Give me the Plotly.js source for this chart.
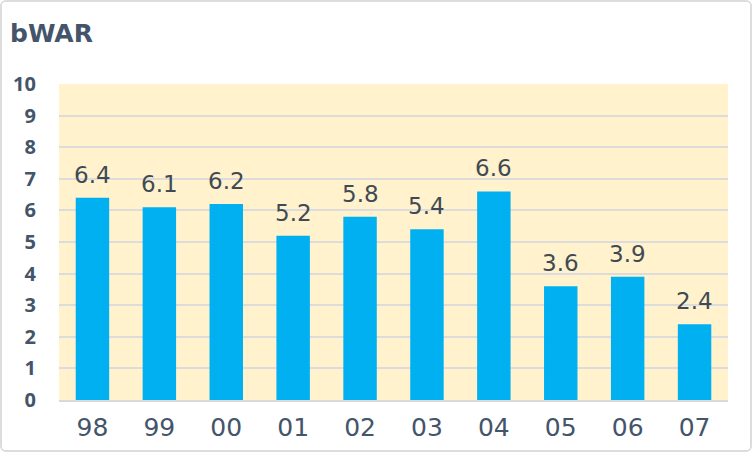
<!DOCTYPE html>
<html>
<head>
<meta charset="utf-8">
<script src="https://cdn.plot.ly/plotly-3.0.1.min.js"></script>
<style>
  body { margin: 0; background: #fff; }
  #frame { width: 748px; height: 448px; border: 2px solid #dcdcdc; border-radius: 6px; overflow: hidden; }
</style>
</head>
<body>
<div id="frame"><div id="chart"></div></div>
<script>
var years = ['98', '99', '00', '01', '02', '03', '04', '05', '06', '07'];
var bwar = [6.4, 6.1, 6.2, 5.2, 5.8, 5.4, 6.6, 3.6, 3.9, 2.4];

var trace = {
  x: years,
  y: bwar,
  type: 'bar',
  marker: { color: '#00b0f0' },
  hoverinfo: 'none'
};

// value labels above each bar (x given as category index)
var labels = [];
for (var i = 0; i < years.length; i++) {
  labels.push({
    x: i, y: bwar[i], text: bwar[i].toFixed(1),
    showarrow: false, yanchor: 'bottom', yshift: 8,
    font: { family: 'DejaVu Sans, sans-serif', size: 23, color: '#404a55' }
  });
}

var layout = {
  width: 748,
  height: 448,
  margin: { l: 57, r: 22, t: 82, b: 50 },
  paper_bgcolor: '#ffffff',
  plot_bgcolor: '#fff2cc',
  font: { family: 'Noto Sans, sans-serif', color: '#44546a' },
  bargap: 0.5,
  showlegend: false,
  title: {
    text: '<b>bWAR</b>',
    font: { family: 'DejaVu Sans, sans-serif', size: 25, color: '#44546a' },
    x: 0, xref: 'container', xanchor: 'left',
    y: 1, yref: 'container', yanchor: 'top',
    pad: { t: 22, l: 8 }
  },
  xaxis: {
    type: 'category',
    categoryorder: 'array',
    categoryarray: years,
    range: [-0.5, years.length - 0.5],
    tickfont: { family: 'DejaVu Sans, sans-serif', size: 25, color: '#44546a' },
    showgrid: false,
    showline: true, linecolor: '#d9d9d9', linewidth: 2,
    ticks: 'outside', ticklen: 4, tickcolor: 'rgba(0,0,0,0)'
  },
  yaxis: {
    range: [0, 10],
    dtick: 1,
    tickfont: { size: 20, color: '#44546a', weight: 'bold' },
    gridcolor: '#dcdcdc', gridwidth: 2,
    zeroline: false,
    ticks: 'outside', ticklen: 18, tickcolor: 'rgba(0,0,0,0)'
  },
  annotations: labels
};

Plotly.newPlot('chart', [trace], layout, { displayModeBar: false, staticPlot: true });
</script>
</body>
</html>
